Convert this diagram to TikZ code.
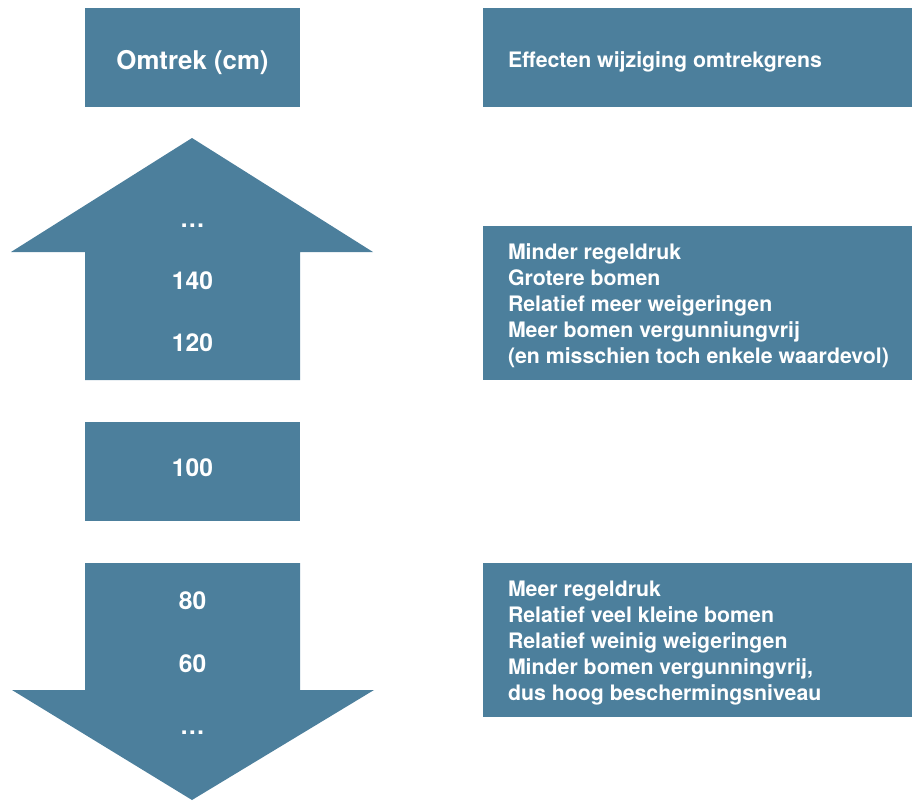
\documentclass[tikz,border=0pt]{standalone}
\usepackage{fontspec}
\setmainfont{TeX Gyre Heros}
\usetikzlibrary{positioning}
\definecolor{blok}{HTML}{4C7F9C}

\begin{document}
\begin{tikzpicture}
[x=0.5pt,y=-0.5pt,text=white,font=\bfseries]
  \tikzstyle{vak}=[fill=blok,inner sep=0pt,minimum width=107.5pt,minimum height=49.5pt]
  \tikzstyle{breed}=[fill=blok,inner sep=0pt,minimum width=214.5pt]
  \tikzstyle{uitleg}=[inner sep=0pt,align=left,font=\fontsize{10.65}{13}\selectfont\bfseries]
  \tikzstyle{getal}=[anchor=base,inner sep=0pt,font=\fontsize{12.3}{14}\selectfont\bfseries]
  \useasboundingbox (0,0) rectangle (912,800);

  % linkerkolom
  \node[vak] (kop) at (192.5,57.5) {};
  \node[getal,font=\fontsize{12.9}{15}\selectfont\bfseries] at ([yshift=-5.75pt]kop.center) {Omtrek (cm)};
  \fill[blok] (85,380) -- (85,252) -- (11,252) -- (192,138) -- (373,252)
    -- (300,252) -- (300,380) -- cycle;
  \node[getal] (n120) at (192.5,351) {120};
  \node[getal] (n140) [above=31pt of n120.base,anchor=base] {140};
  \node[getal] (bov)  [above=31pt of n140.base,anchor=base] {\dots};
  \node[vak] (n100) at (192.5,471.5) {};
  \node[getal] at (192.5,476) {100};
  \fill[blok] (85,563) -- (300,563) -- (300,690) -- (374,690) -- (192,800)
    -- (12,690) -- (85,690) -- cycle;
  \node[getal] (n80) at (192.5,609) {80};
  \node[getal] (n60) [below=31.5pt of n80.base,anchor=base] {60};
  \node[getal] (ond) [below=31pt of n60.base,anchor=base] {\dots};

  % rechterkolom
  \node[breed,minimum height=49.5pt] (effect) at (697.5,57.5) {};
  \node[uitleg,anchor=base west] at ([xshift=12.5pt,yshift=-4.9pt]effect.west)
    {Effecten wijziging omtrekgrens};
  \node[breed,minimum height=77pt] (hoger) at (697.5,303) {};
  \node[uitleg,anchor=west] at ([xshift=12.5pt,yshift=-1.5pt]hoger.west) {Minder regeldruk\\
    Grotere bomen\\ Relatief meer weigeringen\\ Meer bomen vergunniungvrij\\
    (en misschien toch enkele waardevol)};
  \node[breed,minimum height=77pt] (lager) at (697.5,640) {};
  \node[uitleg,anchor=west] at ([xshift=12.5pt,yshift=-1.5pt]lager.west) {Meer regeldruk\\
    Relatief veel kleine bomen\\ Relatief weinig weigeringen\\
    Minder bomen vergunningvrij,\\ dus hoog beschermingsniveau};
\end{tikzpicture}
\end{document}
